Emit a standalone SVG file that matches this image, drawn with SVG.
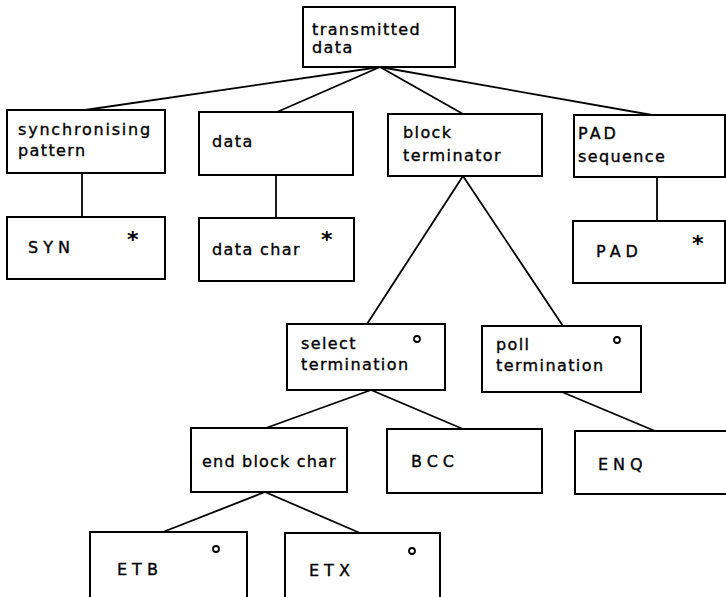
<svg xmlns="http://www.w3.org/2000/svg" width="726" height="597" viewBox="0 0 726 597">
<style>
.box{fill:#fff;stroke:#000;stroke-width:2}
.t{font-family:"DejaVu Sans","Liberation Sans",sans-serif;font-size:16px;letter-spacing:1.4px;fill:#000;stroke:#000;stroke-width:0.35}
.c{font-family:"DejaVu Sans","Liberation Sans",sans-serif;font-size:16px;letter-spacing:5px;fill:#000;stroke:#000;stroke-width:0.35}
.ast{font-family:"DejaVu Sans",sans-serif;font-size:22px;font-weight:bold;fill:#000}
.o{fill:none;stroke:#000;stroke-width:1.8}
#connectors line{stroke:#000;stroke-width:1.8}
</style>
<rect width="726" height="597" fill="#fff"/>
<g id="connectors">
<line x1="380" y1="67" x2="85" y2="110"/>
<line x1="380" y1="67" x2="277" y2="112"/>
<line x1="380" y1="67" x2="463" y2="114"/>
<line x1="380" y1="67" x2="652" y2="115"/>
<line x1="82" y1="173" x2="82" y2="217"/>
<line x1="276" y1="175" x2="276" y2="218"/>
<line x1="657" y1="177" x2="657" y2="221"/>
<line x1="463" y1="176" x2="367" y2="324"/>
<line x1="463" y1="176" x2="563" y2="326"/>
<line x1="371" y1="390" x2="266" y2="428"/>
<line x1="371" y1="390" x2="463" y2="429"/>
<line x1="562" y1="392" x2="655" y2="431"/>
<line x1="265" y1="492" x2="163" y2="532"/>
<line x1="265" y1="492" x2="360" y2="533"/>
</g>
<g id="transmitted-data"><rect class="box" x="303" y="7" width="152" height="60"/><text class="t" x="312" y="35">transmitted</text><text class="t" x="312" y="53">data</text></g>
<g id="synchronising-pattern"><rect class="box" x="7" y="110" width="158" height="63"/><text class="t" x="18" y="135" style="letter-spacing:1.8px">synchronising</text><text class="t" x="18" y="156">pattern</text></g>
<g id="data"><rect class="box" x="199" y="112" width="154" height="63"/><text class="t" x="212" y="147">data</text></g>
<g id="block-terminator"><rect class="box" x="388" y="114" width="154" height="62"/><text class="t" x="403" y="138">block</text><text class="t" x="403" y="161">terminator</text></g>
<g id="pad-sequence"><rect class="box" x="574" y="115" width="151" height="62"/><text class="t" x="578" y="139" style="letter-spacing:3px">PAD</text><text class="t" x="578" y="162">sequence</text></g>
<g id="syn"><rect class="box" x="7" y="217" width="158" height="62"/><text class="c" x="28" y="253">SYN</text><text class="ast" x="127" y="247">*</text></g>
<g id="data-char"><rect class="box" x="199" y="218" width="155" height="63"/><text class="t" x="212" y="255">data char</text><text class="ast" x="321" y="247">*</text></g>
<g id="pad"><rect class="box" x="573" y="221" width="152" height="62"/><text class="c" x="596" y="257">PAD</text><text class="ast" x="692" y="251">*</text></g>
<g id="select-termination"><rect class="box" x="287" y="324" width="158" height="66"/><text class="t" x="301" y="349">select</text><text class="t" x="301" y="370">termination</text><circle class="o" cx="417" cy="339" r="3"/></g>
<g id="poll-termination"><rect class="box" x="482" y="326" width="159" height="66"/><text class="t" x="496" y="350">poll</text><text class="t" x="496" y="371">termination</text><circle class="o" cx="617" cy="340" r="3"/></g>
<g id="end-block-char"><rect class="box" x="191" y="428" width="156" height="64"/><text class="t" x="202" y="467" style="letter-spacing:1.2px">end block char</text></g>
<g id="bcc"><rect class="box" x="387" y="429" width="155" height="64"/><text class="c" x="411" y="467">BCC</text></g>
<g id="enq"><rect class="box" x="575" y="431" width="152" height="63"/><text class="c" x="598" y="470">ENQ</text></g>
<g id="etb"><rect class="box" x="90" y="532" width="157" height="80"/><text class="c" x="117" y="575">ETB</text><circle class="o" cx="216" cy="549" r="3"/></g>
<g id="etx"><rect class="box" x="285" y="533" width="155" height="80"/><text class="c" x="309" y="576">ETX</text><circle class="o" cx="412" cy="551" r="3"/></g>
</svg>
